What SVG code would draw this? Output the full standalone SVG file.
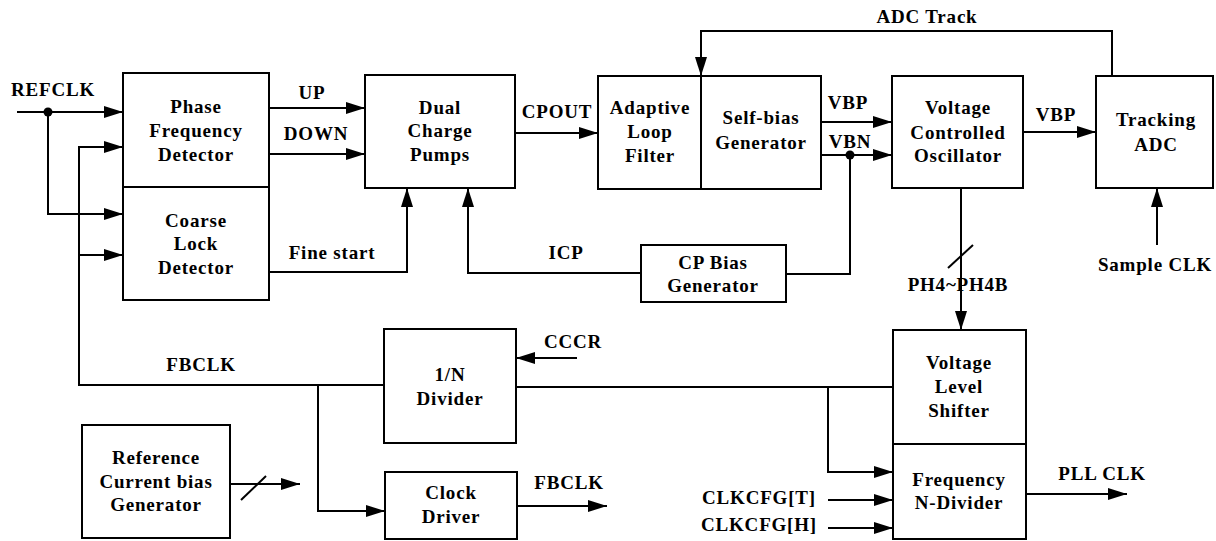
<svg xmlns="http://www.w3.org/2000/svg" width="1216" height="541" viewBox="0 0 1216 541">
<style>
.box{fill:none;stroke:#000;stroke-width:2}
.ln{fill:none;stroke:#000;stroke-width:2}
.arr{marker-end:url(#ah)}
text{font-family:"Liberation Serif","Times New Roman",serif;font-weight:bold;font-size:19px;letter-spacing:0.8px;fill:#000;text-anchor:middle}
</style>
<defs>
<marker id="ah" markerUnits="userSpaceOnUse" markerWidth="20" markerHeight="12" refX="19" refY="6" orient="auto">
<path d="M0,0 L19,6 L0,12 z" fill="#000"/>
</marker>
</defs>
<rect width="1216" height="541" fill="#fff"/>
<g id="connectors">
<path class="ln arr" d="M17,112 H123"/>
<path class="ln arr" d="M48,112 V214 H123"/>
<circle cx="48" cy="112" r="4.5" fill="#000"/>
<path class="ln arr" d="M384,385 H79 V147 H123"/>
<path class="ln arr" d="M79,255 H123"/>
<path class="ln arr" d="M269,108 H365"/>
<path class="ln arr" d="M269,154 H365"/>
<path class="ln arr" d="M269,272 H407 V188"/>
<path class="ln arr" d="M641,273 H468 V188"/>
<path class="ln arr" d="M515,133 H598"/>
<path class="ln arr" d="M1112,76 V31 H701 V76"/>
<path class="ln arr" d="M821,122 H892"/>
<path class="ln arr" d="M821,155 H892"/>
<circle cx="850" cy="155" r="4.5" fill="#000"/>
<path class="ln" d="M850,155 V274 H786"/>
<path class="ln arr" d="M1023,132 H1096"/>
<path class="ln arr" d="M1157,245 V188"/>
<path class="ln arr" d="M961,188 V330"/>
<path class="ln" d="M948,268 L973,245"/>
<path class="ln" d="M516,387 H893"/>
<path class="ln arr" d="M828,387 V472 H893"/>
<path class="ln arr" d="M828,500 H893"/>
<path class="ln arr" d="M828,528 H893"/>
<path class="ln arr" d="M1026,494 H1127"/>
<path class="ln arr" d="M577,358 H516"/>
<path class="ln arr" d="M318,385 V511 H385"/>
<path class="ln arr" d="M517,506 H607"/>
<path class="ln arr" d="M230,484 H300"/>
<path class="ln" d="M241,500 L266,476"/>
</g>
<g id="labels">
<text x="53" y="96">REFCLK</text>
<text x="312" y="99">UP</text>
<text x="316" y="140">DOWN</text>
<text x="332" y="259">Fine start</text>
<text x="557" y="118">CPOUT</text>
<text x="927" y="23">ADC Track</text>
<text x="848" y="109">VBP</text>
<text x="850" y="148">VBN</text>
<text x="1056" y="121">VBP</text>
<text x="1155" y="271">Sample CLK</text>
<text x="958" y="291">PH4~PH4B</text>
<text x="566" y="259">ICP</text>
<text x="573" y="348">CCCR</text>
<text x="201" y="371">FBCLK</text>
<text x="569" y="489">FBCLK</text>
<text x="759" y="504">CLKCFG[T]</text>
<text x="759" y="531">CLKCFG[H]</text>
<text x="1102" y="480">PLL CLK</text>
</g>
<g id="pfd">
<rect class="box" x="123" y="73" width="146" height="114"/>
<text x="196" y="113">Phase</text>
<text x="196" y="137">Frequency</text>
<text x="196" y="161">Detector</text>
</g>
<g id="cld">
<rect class="box" x="123" y="187" width="146" height="113"/>
<text x="196" y="227">Coarse</text>
<text x="196" y="250">Lock</text>
<text x="196" y="274">Detector</text>
</g>
<g id="dcp">
<rect class="box" x="365" y="75" width="150" height="113"/>
<text x="440" y="114">Dual</text>
<text x="440" y="137">Charge</text>
<text x="440" y="161">Pumps</text>
</g>
<g id="alf">
<rect class="box" x="598" y="76" width="103" height="113"/>
<text x="650" y="114">Adaptive</text>
<text x="650" y="138">Loop</text>
<text x="650" y="162">Filter</text>
</g>
<g id="sbg">
<rect class="box" x="701" y="76" width="120" height="113"/>
<text x="761" y="124">Self-bias</text>
<text x="761" y="149">Generator</text>
</g>
<g id="vco">
<rect class="box" x="892" y="76" width="131" height="112"/>
<text x="958" y="114">Voltage</text>
<text x="958" y="139">Controlled</text>
<text x="958" y="162">Oscillator</text>
</g>
<g id="tadc">
<rect class="box" x="1096" y="76" width="117" height="112"/>
<text x="1156" y="126">Tracking</text>
<text x="1156" y="151">ADC</text>
</g>
<g id="cpbg">
<rect class="box" x="641" y="245" width="145" height="57"/>
<text x="713" y="269">CP Bias</text>
<text x="713" y="292">Generator</text>
</g>
<g id="divn">
<rect class="box" x="384" y="329" width="132" height="114"/>
<text x="450" y="381">1/N</text>
<text x="450" y="405">Divider</text>
</g>
<g id="cd">
<rect class="box" x="385" y="472" width="132" height="67"/>
<text x="451" y="499">Clock</text>
<text x="451" y="523">Driver</text>
</g>
<g id="rcbg">
<rect class="box" x="82" y="425" width="148" height="113"/>
<text x="156" y="464">Reference</text>
<text x="156" y="488">Current bias</text>
<text x="156" y="511">Generator</text>
</g>
<g id="vls">
<rect class="box" x="893" y="330" width="133" height="114"/>
<text x="959" y="369">Voltage</text>
<text x="959" y="393">Level</text>
<text x="959" y="417">Shifter</text>
</g>
<g id="fnd">
<rect class="box" x="893" y="444" width="133" height="95"/>
<text x="959" y="486">Frequency</text>
<text x="959" y="509">N-Divider</text>
</g>
</svg>
